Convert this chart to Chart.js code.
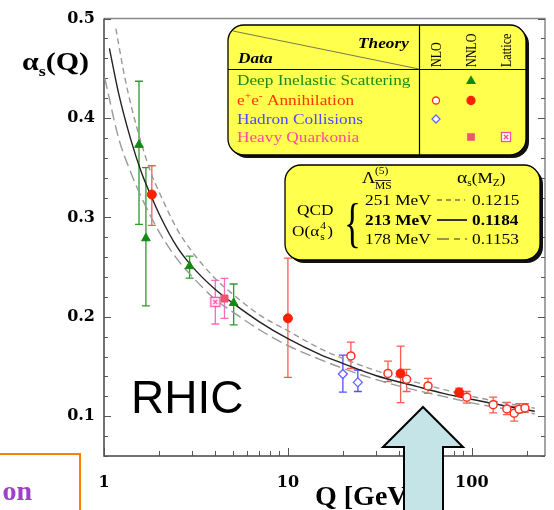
<!DOCTYPE html>
<html>
<head>
<meta charset="utf-8">
<script src="https://cdn.jsdelivr.net/npm/chart.js@4/dist/chart.umd.min.js"></script>
<style>
  html, body { margin: 0; padding: 0; background: #fff; }
</style>
</head>
<body>
<canvas id="alphaChart" width="554" height="510"></canvas>
<script>
// Running coupling alpha_s(Q): measurements grouped by process, with QCD bands

// axis ticks
const xTickLabels = [1, 10, 100];
const yTickLabels = [0.1, 0.2, 0.3, 0.4, 0.5];

// Deep inelastic scattering (NNLO)
const disQ    = [1.55, 1.69, 2.92, 5.07];
const disA    = [0.373, 0.279, 0.251, 0.214];
const disHigh = [0.437, 0.350, 0.261, 0.233];
const disLow  = [0.293, 0.211, 0.239, 0.192];

// e+e- annihilation (NNLO)
const eeNnloQ    = [1.82, 10.0, 41, 85.3];
const eeNnloA    = [0.323, 0.1985, 0.1431, 0.1239];
const eeNnloHigh = [0.352, 0.259, 0.1706, 0.1282];
const eeNnloLow  = [0.292, 0.139, 0.1136, 0.1199];

// e+e- annihilation (NLO)
const eeNloQ    = [22, 35, 44.2, 57.8, 93.9, 130.7, 155, 170, 181, 194.5];
const eeNloA    = [0.1607, 0.1431, 0.1371, 0.1305, 0.1192, 0.1116, 0.1073, 0.103, 0.107, 0.1083];
const eeNloHigh = [0.1746, 0.1554, 0.1471, 0.1381, 0.1249, 0.1192, 0.1139, 0.110, 0.1126, 0.1126];
const eeNloLow  = [0.148, 0.1348, 0.1249, 0.1229, 0.1132, 0.1033, 0.1017, 0.095, 0.1033, 0.104];

// hadron collisions (NLO)
const hadQ    = [19.9, 24];
const hadA    = [0.1425, 0.1341];
const hadHigh = [0.1614, 0.1465];
const hadLow  = [0.1242, 0.1249];

// heavy quarkonia (NNLO and lattice)
const hqQ = [4.52], hqA = [0.2184], hqHigh = [0.2386], hqLow = [0.1985];
const latQ = [4.03], latA = [0.2151], latHigh = [0.2366], latLow = [0.1928];

// QCD O(alpha_s^4) curves for Lambda = 213, 251, 178 MeV
const centralQ = [1.07, 1.2, 1.4, 1.6, 1.8, 2.0, 2.5, 3, 4, 5, 7, 10, 15, 20, 30, 50, 70, 100, 150, 220];
const centralA = [0.470, 0.425, 0.378, 0.345, 0.322, 0.303, 0.270, 0.251, 0.228, 0.214, 0.195, 0.178, 0.162, 0.153, 0.141, 0.130, 0.123, 0.117, 0.1105, 0.105];
const upperQ = [1.16, 1.3, 1.5, 1.8, 2.0, 2.5, 3, 4, 5, 7, 10, 15, 20, 30, 50, 70, 100, 150, 220];
const upperA = [0.490, 0.440, 0.392, 0.345, 0.325, 0.288, 0.266, 0.239, 0.223, 0.202, 0.186, 0.168, 0.158, 0.146, 0.134, 0.127, 0.120, 0.1135, 0.108];
const lowerQ = [1.01, 1.2, 1.4, 1.6, 2.0, 2.5, 3, 4, 5, 7, 10, 15, 20, 30, 50, 70, 100, 150, 220];
const lowerA = [0.440, 0.380, 0.345, 0.320, 0.285, 0.258, 0.241, 0.218, 0.205, 0.187, 0.171, 0.157, 0.148, 0.137, 0.126, 0.120, 0.1135, 0.1075, 0.1025];

const SERIF = '"Liberation Serif", "Times New Roman", serif';
const WIDE_SERIF = '"DejaVu Serif", serif';
const SANS = '"Liberation Sans", Arial, sans-serif';
const SX = 1.15; // plot lettering runs a little wide

const pts = (qs, as) => qs.map((q, i) => ({ x: q, y: as[i] }));

// open square with a cross, used for lattice results
function latticeMark(color) {
  const c = document.createElement('canvas');
  c.width = 12; c.height = 12;
  const g = c.getContext('2d');
  g.fillStyle = '#fff';
  g.fillRect(1.5, 1.5, 9, 9);
  g.strokeStyle = color;
  g.lineWidth = 1.3;
  g.strokeRect(1.5, 1.5, 9, 9);
  g.beginPath();
  g.moveTo(3.8, 3.8); g.lineTo(8.2, 8.2);
  g.moveTo(8.2, 3.8); g.lineTo(3.8, 8.2);
  g.stroke();
  return c;
}
const latticeIcon = latticeMark('#ff4aa8');

// frame with inward ticks on left, right and bottom
const framePlugin = {
  id: 'frame',
  beforeDatasetsDraw(chart) {
    const { ctx, chartArea: a, scales: { x, y } } = chart;
    ctx.save();
    ctx.lineWidth = 1.5;
    ctx.strokeStyle = '#888';
    ctx.beginPath();
    ctx.moveTo(a.left, a.top); ctx.lineTo(a.right, a.top); ctx.lineTo(a.right, a.bottom);
    ctx.stroke();
    ctx.strokeStyle = '#444';
    ctx.beginPath();
    ctx.moveTo(a.left, a.top); ctx.lineTo(a.left, a.bottom); ctx.lineTo(a.right, a.bottom);
    ctx.stroke();

    ctx.lineWidth = 1;
    ctx.strokeStyle = '#555';
    ctx.beginPath();
    for (let v = 0.06; v < 0.501; v += 0.02) {
      const py = Math.round(y.getPixelForValue(v)) + 0.5;
      const major = Math.abs(v * 10 - Math.round(v * 10)) < 1e-6;
      const len = major ? 7 : 4;
      ctx.moveTo(a.left, py); ctx.lineTo(a.left + len, py);
      ctx.moveTo(a.right, py); ctx.lineTo(a.right - len, py);
    }
    for (let d = 1; d <= 100; d *= 10) {
      for (let m = 1; m <= 9; m++) {
        const q = d * m;
        if (q > 250) break;
        const px = Math.round(x.getPixelForValue(q)) + 0.5;
        const len = m === 1 ? 8 : 5;
        ctx.moveTo(px, a.bottom); ctx.lineTo(px, a.bottom - len);
      }
    }
    ctx.stroke();
    ctx.restore();
  }
};

// vertical error bars with caps, drawn under the markers
const errorBarPlugin = {
  id: 'errorBars',
  beforeDatasetsDraw(chart) {
    const { ctx, scales: { x, y } } = chart;
    chart.data.datasets.forEach(ds => {
      if (!ds.errHigh) return;
      ctx.save();
      ctx.strokeStyle = ds.barColor;
      ctx.lineWidth = 1.3;
      ds.data.forEach((p, i) => {
        const px = x.getPixelForValue(p.x);
        const hi = y.getPixelForValue(ds.errHigh[i]);
        const lo = y.getPixelForValue(ds.errLow[i]);
        ctx.beginPath();
        ctx.moveTo(px, hi); ctx.lineTo(px, lo);
        ctx.moveTo(px - 4, hi); ctx.lineTo(px + 4, hi);
        ctx.moveTo(px - 4, lo); ctx.lineTo(px + 4, lo);
        ctx.stroke();
      });
      ctx.restore();
    });
  }
};

// text stretched horizontally by sx; returns the x where it ends
function sText(ctx, t, x, y, sx = SX) {
  ctx.save();
  ctx.translate(x, y);
  ctx.scale(sx, 1);
  ctx.fillText(t, 0, 0);
  ctx.restore();
  return x + ctx.measureText(t).width * sx;
}

function rich(ctx, x, y, parts, sx = SX) {
  parts.forEach(([t, font, dy]) => {
    ctx.font = font;
    x = sText(ctx, t, x, y + (dy || 0), sx);
  });
  return x;
}

function yellowBox(ctx, x, y, w, h, r) {
  ctx.fillStyle = '#111';
  ctx.beginPath(); ctx.roundRect(x + 3, y + 3, w, h, r); ctx.fill();
  ctx.fillStyle = '#ffff4d';
  ctx.beginPath(); ctx.roundRect(x, y, w, h, r); ctx.fill();
  ctx.strokeStyle = '#000';
  ctx.lineWidth = 1.3;
  ctx.stroke();
}

// key panels: data / theory table and QCD curve legend
const panelPlugin = {
  id: 'panels',
  afterDatasetsDraw(chart) {
    const ctx = chart.ctx;
    const draw = Chart.helpers.drawPoint;
    ctx.save();
    ctx.textBaseline = 'alphabetic';
    ctx.textAlign = 'left';

    // table box
    yellowBox(ctx, 228, 25, 298, 130, 16);
    ctx.strokeStyle = '#000';
    ctx.lineWidth = 1.2;
    ctx.beginPath();
    ctx.moveTo(228, 69.5); ctx.lineTo(526, 69.5);
    ctx.moveTo(419.5, 25); ctx.lineTo(419.5, 155);
    ctx.stroke();
    ctx.strokeStyle = '#555';
    ctx.lineWidth = 0.8;
    ctx.beginPath();
    ctx.moveTo(233, 31); ctx.lineTo(419, 69);
    ctx.stroke();

    ctx.fillStyle = '#000';
    ctx.font = `italic bold 15px ${SERIF}`;
    sText(ctx, 'Theory', 358, 48);
    sText(ctx, 'Data', 238, 63);

    ctx.font = `12px ${SERIF}`;
    [['NLO', 436], ['NNLO', 471], ['Lattice', 506]].forEach(([t, cx]) => {
      ctx.save();
      ctx.translate(cx + 4.5, 67);
      ctx.rotate(-Math.PI / 2);
      ctx.scale(1, SX);
      ctx.fillText(t, 0, 0);
      ctx.restore();
    });

    const rowFont = `15px ${SERIF}`;
    const supFont = `10px ${SERIF}`;
    ctx.fillStyle = '#1a8a1a';
    ctx.font = rowFont;
    sText(ctx, 'Deep Inelastic Scattering', 237, 85);
    ctx.fillStyle = '#ff3300';
    rich(ctx, 237, 105, [['e', rowFont], ['+', supFont, -6], ['e', rowFont], ['-', supFont, -6], [' Annihilation', rowFont]]);
    ctx.fillStyle = '#4a4aff';
    ctx.font = rowFont;
    sText(ctx, 'Hadron Collisions', 237, 124);
    ctx.fillStyle = '#ff4aa0';
    sText(ctx, 'Heavy Quarkonia', 237, 142);

    ctx.lineWidth = 1.3;
    ctx.fillStyle = '#138a13'; ctx.strokeStyle = '#138a13';
    draw(ctx, { pointStyle: 'triangle', radius: 4.5, borderWidth: 1 }, 471, 81);
    ctx.fillStyle = '#fff'; ctx.strokeStyle = '#ff3020';
    draw(ctx, { pointStyle: 'circle', radius: 3.5, borderWidth: 1.5 }, 436, 100.5);
    ctx.fillStyle = '#ff2000'; ctx.strokeStyle = '#ff2000';
    draw(ctx, { pointStyle: 'circle', radius: 4, borderWidth: 1 }, 471, 100.5);
    ctx.fillStyle = '#fff'; ctx.strokeStyle = '#6464ff';
    draw(ctx, { pointStyle: 'rectRot', radius: 4, borderWidth: 1.3 }, 436, 119);
    ctx.fillStyle = '#ee5570'; ctx.strokeStyle = '#ee5570';
    draw(ctx, { pointStyle: 'rect', radius: 4.5, borderWidth: 1 }, 471, 137);
    ctx.drawImage(latticeIcon, 500, 131);

    // curve legend box
    yellowBox(ctx, 285, 165, 255, 95, 16);
    ctx.fillStyle = '#000';
    const f15 = `15px ${SERIF}`;
    const f10 = `10px ${SERIF}`;
    ctx.font = `16px ${SERIF}`;
    sText(ctx, '\u039B', 362, 183);
    ctx.font = f10;
    sText(ctx, '(5)', 375, 174);
    sText(ctx, 'MS', 375, 189);
    ctx.lineWidth = 0.8;
    ctx.strokeStyle = '#000';
    ctx.beginPath(); ctx.moveTo(375, 180.5); ctx.lineTo(391, 180.5); ctx.stroke();
    rich(ctx, 457, 183, [['\u03B1', `17px ${SERIF}`], ['s', f10, 3], ['(M', f15], ['Z', f10, 3], [')', f15]]);

    ctx.font = f15;
    sText(ctx, 'QCD', 297, 215);
    const afterAlpha = rich(ctx, 292, 236, [['O(\u03B1', f15]]);
    ctx.font = f10;
    sText(ctx, '4', afterAlpha + 1, 229);
    sText(ctx, 's', afterAlpha + 1, 240);
    ctx.font = f15;
    sText(ctx, ')', afterAlpha + 8, 236);

    ctx.font = `54px ${SERIF}`;
    sText(ctx, '{', 344, 241, 0.65);

    ctx.font = f15;
    sText(ctx, '251 MeV', 365, 205);
    sText(ctx, '0.1215', 472, 205);
    ctx.font = `bold 15px ${SERIF}`;
    sText(ctx, '213 MeV', 365, 225);
    sText(ctx, '0.1184', 472, 225);
    ctx.font = f15;
    sText(ctx, '178 MeV', 365, 244);
    sText(ctx, '0.1153', 472, 244);

    ctx.strokeStyle = '#333';
    ctx.lineWidth = 1.2;
    ctx.setLineDash([5, 4]);
    ctx.beginPath(); ctx.moveTo(437, 200); ctx.lineTo(465, 200); ctx.stroke();
    ctx.setLineDash([]);
    ctx.lineWidth = 2;
    ctx.beginPath(); ctx.moveTo(437, 220); ctx.lineTo(467, 220); ctx.stroke();
    ctx.lineWidth = 1.2;
    ctx.setLineDash([12, 5, 6, 5]);
    ctx.beginPath(); ctx.moveTo(437, 239); ctx.lineTo(467, 239); ctx.stroke();
    ctx.setLineDash([]);
    ctx.restore();
  },

  // axis titles and annotations on top of the plot
  afterDraw(chart) {
    const ctx = chart.ctx;
    ctx.save();
    ctx.fillStyle = '#000';
    ctx.textAlign = 'left';
    ctx.textBaseline = 'alphabetic';
    rich(ctx, 22, 70, [['\u03B1', `bold 25px ${SERIF}`], ['s', `bold 15px ${SERIF}`, 6], ['(Q)', `bold 25px ${SERIF}`]], 1.2);

    ctx.font = `bold 28px ${SERIF}`;
    ctx.fillText('Q [GeV]', 315, 505);

    ctx.font = `46px ${SANS}`;
    ctx.fillText('RHIC', 131, 413);

    // arrow pointing up at the RHIC energy range
    ctx.fillStyle = '#c5e4e8';
    ctx.strokeStyle = '#000';
    ctx.lineWidth = 2;
    ctx.beginPath();
    ctx.moveTo(423, 407);
    ctx.lineTo(463, 447);
    ctx.lineTo(443, 447);
    ctx.lineTo(443, 515);
    ctx.lineTo(404, 515);
    ctx.lineTo(404, 447);
    ctx.lineTo(383, 447);
    ctx.closePath();
    ctx.fill();
    ctx.stroke();

    // fragment of a neighbouring label box
    ctx.strokeStyle = '#ff8000';
    ctx.lineWidth = 2;
    ctx.beginPath();
    ctx.moveTo(-5, 454); ctx.lineTo(80, 454); ctx.lineTo(80, 515);
    ctx.stroke();
    ctx.fillStyle = '#a040c8';
    ctx.font = `bold 28px ${SERIF}`;
    ctx.textAlign = 'right';
    ctx.fillText('on', 32, 500);
    ctx.restore();
  }
};

const tickFont = { family: WIDE_SERIF, size: 16, weight: 'bold' };

new Chart(document.getElementById('alphaChart'), {
  type: 'scatter',
  data: {
    datasets: [
      {
        label: 'DIS', data: pts(disQ, disA), errHigh: disHigh, errLow: disLow, barColor: '#2e9a2e',
        pointStyle: 'triangle', pointRadius: 5, backgroundColor: '#138a13', borderColor: '#138a13', borderWidth: 1
      },
      {
        label: 'e+e- NNLO', data: pts(eeNnloQ, eeNnloA), errHigh: eeNnloHigh, errLow: eeNnloLow, barColor: '#ff5a50',
        pointStyle: 'circle', pointRadius: 4.5, backgroundColor: '#ff2000', borderColor: '#ff2000', borderWidth: 1
      },
      {
        label: 'e+e- NLO', data: pts(eeNloQ, eeNloA), errHigh: eeNloHigh, errLow: eeNloLow, barColor: '#ff5a50',
        pointStyle: 'circle', pointRadius: 4, backgroundColor: '#fff', borderColor: '#ff3020', borderWidth: 1.5
      },
      {
        label: 'Hadron', data: pts(hadQ, hadA), errHigh: hadHigh, errLow: hadLow, barColor: '#5050ff',
        pointStyle: 'rectRot', pointRadius: 4.5, backgroundColor: '#fff', borderColor: '#6464ff', borderWidth: 1.3
      },
      {
        label: 'Quarkonia', data: pts(hqQ, hqA), errHigh: hqHigh, errLow: hqLow, barColor: '#ff6ab8',
        pointStyle: 'rect', pointRadius: 5, backgroundColor: '#ee5570', borderColor: '#ee5570', borderWidth: 1
      },
      {
        label: 'Lattice', data: pts(latQ, latA), errHigh: latHigh, errLow: latLow, barColor: '#ff6ab8',
        pointStyle: latticeIcon, pointRadius: 5
      },
      {
        label: '213 MeV', data: pts(centralQ, centralA), showLine: true, pointRadius: 0,
        borderColor: '#222', borderWidth: 1.4, cubicInterpolationMode: 'monotone'
      },
      {
        label: '251 MeV', data: pts(upperQ, upperA), showLine: true, pointRadius: 0,
        borderColor: '#999', borderWidth: 1.4, borderDash: [6, 4], cubicInterpolationMode: 'monotone'
      },
      {
        label: '178 MeV', data: pts(lowerQ, lowerA), showLine: true, pointRadius: 0,
        borderColor: '#999', borderWidth: 1.4, borderDash: [11, 5], cubicInterpolationMode: 'monotone'
      }
    ]
  },
  options: {
    responsive: false,
    animation: false,
    layout: { padding: { top: 13, right: 9, left: 0, bottom: 0 } },
    plugins: { legend: { display: false }, tooltip: { enabled: false } },
    scales: {
      x: {
        type: 'logarithmic', min: 1, max: 250,
        afterBuildTicks: s => { s.ticks = xTickLabels.map(v => ({ value: v })); },
        afterFit: s => { s.height = 54; },
        grid: { display: false, drawTicks: false },
        border: { display: false },
        ticks: { font: tickFont, color: '#000', padding: 17, maxRotation: 0, autoSkip: false, callback: v => String(v) }
      },
      y: {
        min: 0.06, max: 0.5,
        afterBuildTicks: s => { s.ticks = yTickLabels.map(v => ({ value: v })); },
        afterFit: s => { s.width = 104; },
        grid: { display: false, drawTicks: false },
        border: { display: false },
        ticks: { font: tickFont, color: '#000', padding: 9, autoSkip: false, callback: v => v.toFixed(1) }
      }
    }
  },
  plugins: [framePlugin, errorBarPlugin, panelPlugin]
});
</script>
</body>
</html>
